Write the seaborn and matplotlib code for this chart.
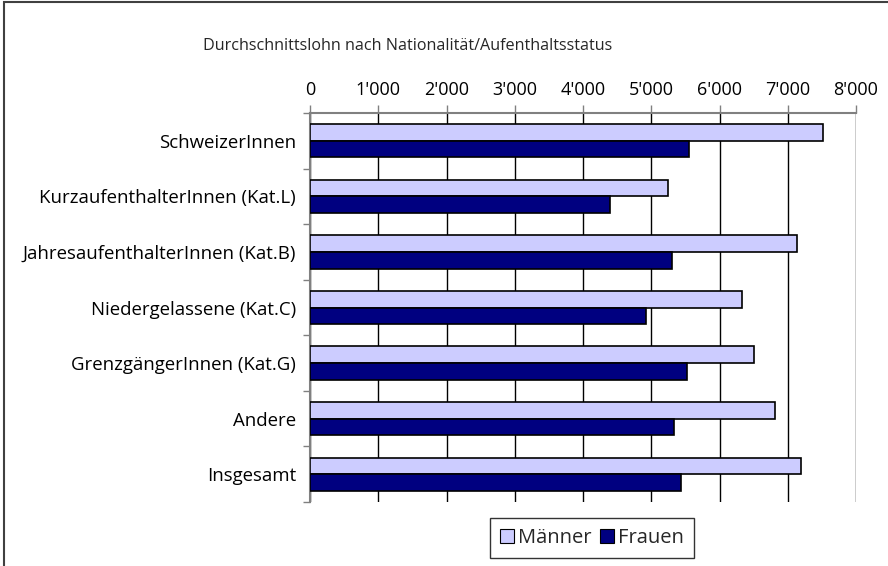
import matplotlib
matplotlib.use("Agg")
import matplotlib.pyplot as plt
from matplotlib.patches import Rectangle, Patch
from matplotlib.ticker import FuncFormatter, FixedLocator
import pandas as pd
import seaborn as sns

# Data (monthly average wage)
categories = ['SchweizerInnen', 'KurzaufenthalterInnen (Kat.L)', 'JahresaufenthalterInnen (Kat.B)',
              'Niedergelassene (Kat.C)', 'GrenzgängerInnen (Kat.G)', 'Andere', 'Insgesamt']
maenner = [7515, 5250, 7140, 6330, 6500, 6815, 7190]
frauen = [5550, 4390, 5310, 4930, 5525, 5340, 5430]
series = ['Männer', 'Frauen']
colors = ['#CCCCFF', '#000080']

df = pd.DataFrame({
    'Kategorie': categories * 2,
    'Lohn': maenner + frauen,
    'Geschlecht': ['Männer'] * len(categories) + ['Frauen'] * len(categories),
})

sns.set_style('white')
plt.rcParams['font.family'] = ['Open Sans', 'DejaVu Sans']
fs = 13.4

fig = plt.figure(figsize=(8.88, 5.66), dpi=100)
ax = fig.add_axes([310 / 888, 1 - 502 / 566, 546 / 888, 389 / 566])

sns.barplot(data=df, y='Kategorie', x='Lohn', hue='Geschlecht', hue_order=series,
            order=categories, palette=colors, orient='h', width=0.6,
            edgecolor='black', linewidth=1.2, saturation=1, legend=False, ax=ax, zorder=3)

ax.set_xlim(0, 8000)
ax.set_ylim(len(categories) - 0.5, -0.5)
ax.set_xlabel('')
ax.set_ylabel('')

# x axis on top with Swiss thousands separator
ax.xaxis.tick_top()
ax.set_xticks(range(0, 8001, 1000))
ax.xaxis.set_major_formatter(FuncFormatter(lambda v, p: f"{int(v):,}".replace(',', "'")))
ax.tick_params(axis='x', which='major', top=True, length=6, width=1, color='#808080',
               labelsize=13, pad=4, labelcolor='black')
ax.grid(axis='x', color='black', linewidth=1, zorder=0)

# category ticks between groups (Excel style)
ax.yaxis.set_minor_locator(FixedLocator([i - 0.5 for i in range(len(categories) + 1)]))
ax.tick_params(axis='y', which='major', left=False, length=0, labelsize=fs, pad=10,
               labelcolor='black')
ax.tick_params(axis='y', which='minor', left=True, length=5, width=1, color='#808080')

for side in ['right', 'bottom']:
    ax.spines[side].set_visible(False)
for side in ['top', 'left']:
    ax.spines[side].set_color('#808080')
    ax.spines[side].set_linewidth(1.5)

fig.text(408 / 888, 1 - 46 / 566, 'Durchschnittslohn nach Nationalität/Aufenthaltsstatus',
         ha='center', va='center', fontsize=11.6)

handles = [Patch(facecolor=c, edgecolor='black', linewidth=0.8) for c in colors]
leg = fig.legend(handles, series, loc='center', bbox_to_anchor=(592 / 888, 1 - 538 / 566),
                 ncol=2, frameon=True, fancybox=False, fontsize=14.5, handlelength=0.7,
                 handleheight=0.7, handletextpad=0.2, columnspacing=0.4, borderpad=0.5,
                 borderaxespad=0)
leg.get_frame().set_edgecolor('black')
leg.get_frame().set_linewidth(1)

# outer frame of the chart
fig.patches.append(Rectangle((4 / 888, -0.1), 1.2, 1.1 - 1.5 / 566, transform=fig.transFigure,
                             fill=False, edgecolor='#404040', linewidth=1.5))

fig.savefig('out.png', dpi=100)
